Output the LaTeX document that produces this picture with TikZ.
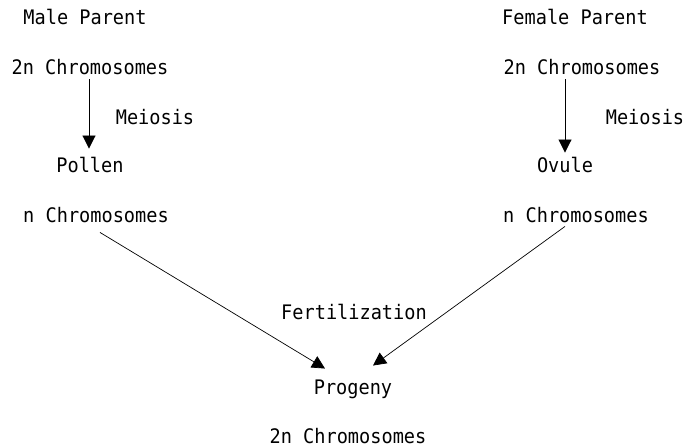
\documentclass[tikz,border=0pt]{standalone}
\usepackage{fontspec}
\setmonofont[FakeStretch=0.93]{DejaVu Sans Mono}
\usetikzlibrary{arrows.meta}
\begin{document}
\begin{tikzpicture}[x=1pt,y=1pt,
  lbl/.style={font=\ttfamily\fontsize{20}{22}\selectfont, inner sep=0pt, text height=14.5pt, text depth=0pt, anchor=center},
  arr/.style={line width=0.9pt, -{Triangle[width=13pt,length=13pt]}},
  darr/.style={line width=0.7pt, -{Triangle[width=13pt,length=13pt]}}]
\useasboundingbox (0,0) rectangle (688,447);
% left column
\node[lbl] (mp) at (85,430) {Male Parent};
\node[lbl] (m2n) at (90,380) {2n Chromosomes};
\node[lbl] (mmei) at (155,330) {Meiosis};
\node[lbl] (pol) at (90,282) {Pollen};
\node[lbl] (mn) at (96,232) {n Chromosomes};
% right column
\node[lbl] (fp) at (575,430) {Female Parent};
\node[lbl] (f2n) at (582,380) {2n Chromosomes};
\node[lbl] (fmei) at (645,330) {Meiosis};
\node[lbl] (ov) at (565,282) {Ovule};
\node[lbl] (fn) at (576,232) {n Chromosomes};
% bottom
\node[lbl] (fert) at (354,135) {Fertilization};
\node[lbl] (prog) at (353,60) {Progeny};
\node[lbl] (p2n) at (348,11) {2n Chromosomes};
% connectors
\draw[arr] ([xshift=-1pt,yshift=-5pt]m2n.south) -- ([xshift=-1pt,yshift=9pt]pol.north);
\draw[arr] ([yshift=-5pt]f2n.south -| ov.north) -- ([yshift=5pt]ov.north);
\draw[darr] ([xshift=4pt,yshift=-10pt]mn.south) -- ([xshift=-28pt,yshift=11pt]prog.north);
\draw[darr] ([xshift=-11pt,yshift=-4pt]fn.south) -- ([xshift=20pt,yshift=14pt]prog.north);
\end{tikzpicture}
\end{document}
